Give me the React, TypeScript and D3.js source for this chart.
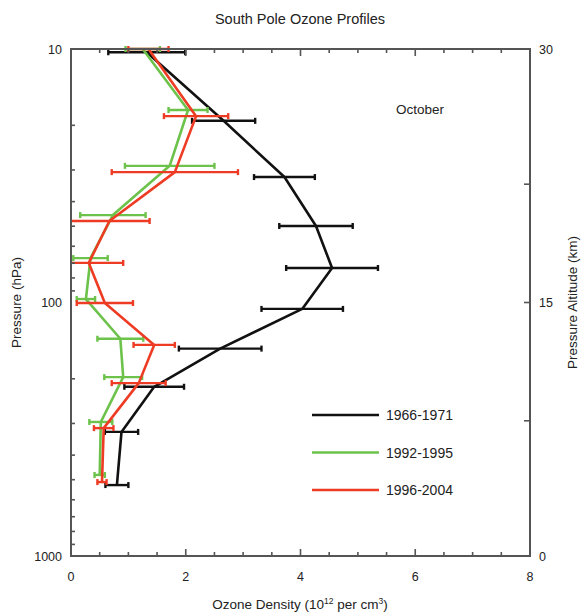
import React from "react";
import * as d3 from "d3";

// ---- data ----
const seriesNames = ["1966-1971", "1992-1995", "1996-2004"];
const seriesColors = ["#111111", "#6cc24a", "#ee3b24"];

// pressure (hPa), ozone density mean and half error (10^12 per cm^3)
const blackPressure = [10.3, 19.2, 32.0, 49.9, 73.1, 106, 152, 215, 324, 525];
const blackValue = [1.32, 2.66, 3.72, 4.27, 4.55, 4.03, 2.6, 1.45, 0.88, 0.8];
const blackError = [0.67, 0.55, 0.53, 0.64, 0.8, 0.71, 0.72, 0.52, 0.29, 0.2];

const greenPressure = [10, 17.4, 28.9, 45.2, 66.8, 96.9, 139, 197, 296, 479];
const greenValue = [1.25, 2.04, 1.72, 0.73, 0.34, 0.26, 0.86, 0.91, 0.52, 0.5];
const greenError = [0.3, 0.34, 0.78, 0.57, 0.3, 0.16, 0.4, 0.33, 0.2, 0.09];

const redPressure = [10, 18.4, 30.6, 47.7, 69.8, 100.5, 147, 208, 313, 511];
const redValue = [1.35, 2.18, 1.81, 0.67, 0.31, 0.59, 1.45, 1.18, 0.57, 0.54];
const redError = [0.35, 0.56, 1.1, 0.7, 0.6, 0.49, 0.36, 0.47, 0.17, 0.08];

const xMajorTicks = [0, 2, 4, 6, 8];
const xMinorTicks = d3.range(0, 8.01, 0.5);
const yLabelTicks = [10, 100, 1000];
const yMinorTicks = [20, 30, 40, 50, 60, 70, 80, 90, 200, 300, 400, 500, 600, 700, 800, 900];
const altLabelTicks = [30, 15, 0];
const altMinorTicks = [22, 8];

const W = 587;
const H = 616;
const L = 71, R = 530, T = 49, B = 556;

export default function App() {
  const x = d3.scaleLinear().domain([0, 8]).range([L, R]);
  const y = d3.scaleLog().domain([10, 1000]).range([T, B]);
  const alt = d3.scaleLinear().domain([0, 30]).range([B, T]);

  const series = [
    { p: blackPressure, v: blackValue, e: blackError },
    { p: greenPressure, v: greenValue, e: greenError },
    { p: redPressure, v: redValue, e: redError },
  ];

  const line = d3
    .line<[number, number]>()
    .x((d) => x(d[0]))
    .y((d) => y(d[1]));

  const axisColor = "#555";
  const font = "'Liberation Sans', Arial, Helvetica, sans-serif";
  const drawOrder = [0, 1, 2];

  return (
    <svg width={W} height={H} style={{ position: "absolute", left: 0, top: 0 }} fontFamily={font}>
      <rect width={W} height={H} fill="#fff" />
      <defs>
        <clipPath id="plot">
          <rect x={L} y={T - 4} width={R - L} height={B - T + 4} />
        </clipPath>
      </defs>
      <text x={300} y={24} textAnchor="middle" fontSize={14.5} fill="#222">
        South Pole Ozone Profiles
      </text>

      {/* data */}
      <g clipPath="url(#plot)">
        {drawOrder.map((si) => {
          const s = series[si];
          const pts: [number, number][] = s.v.map((v, i) => [v, s.p[i]]);
          return (
            <g key={si}>
              {s.v.map((v, i) => {
                const yy = y(s.p[i]);
                const x0 = x(v - s.e[i]);
                const x1 = x(v + s.e[i]);
                return (
                  <g key={i} stroke={seriesColors[si]} strokeWidth={2.4}>
                    <line x1={x0} x2={x1} y1={yy} y2={yy} />
                    <line x1={x0} x2={x0} y1={yy - 3} y2={yy + 3} />
                    <line x1={x1} x2={x1} y1={yy - 3} y2={yy + 3} />
                  </g>
                );
              })}
              <path d={line(pts) || ""} fill="none" stroke={seriesColors[si]} strokeWidth={2.6} strokeLinejoin="round" />
            </g>
          );
        })}
      </g>

      {/* frame */}
      <rect x={L} y={T} width={R - L} height={B - T} fill="none" stroke={axisColor} strokeWidth={2} />

      {/* x ticks bottom & top */}
      {xMinorTicks.map((t) => {
        const major = xMajorTicks.includes(t);
        const len = major ? 7 : 4;
        return (
          <g key={"xt" + t} stroke={axisColor} strokeWidth={1.6}>
            <line x1={x(t)} x2={x(t)} y1={B} y2={B - len} />
            <line x1={x(t)} x2={x(t)} y1={T} y2={T + len} />
          </g>
        );
      })}
      {xMajorTicks.map((t) => (
        <text key={"xl" + t} x={x(t)} y={581} textAnchor="middle" fontSize={12.5} fill="#222">
          {t}
        </text>
      ))}
      <text x={300} y={609} textAnchor="middle" fontSize={13.5} fill="#222">
        Ozone Density (10
        <tspan dy={-5} fontSize={8.5}>12</tspan>
        <tspan dy={5}> per cm</tspan>
        <tspan dy={-5} fontSize={8.5}>3</tspan>
        <tspan dy={5}>)</tspan>
      </text>

      {/* y ticks left */}
      {yMinorTicks.map((t) => (
        <line key={"ym" + t} x1={L} x2={L + 4} y1={y(t)} y2={y(t)} stroke={axisColor} strokeWidth={1.6} />
      ))}
      {yLabelTicks.map((t) => (
        <text key={"yl" + t} x={62} y={y(t) + 4.5} textAnchor="end" fontSize={12.5} fill="#222">
          {t}
        </text>
      ))}
      <text
        transform={`translate(21,${(T + B) / 2}) rotate(-90)`}
        textAnchor="middle"
        fontSize={13.5}
        fill="#222"
      >
        Pressure (hPa)
      </text>

      {/* right altitude axis */}
      {[...altLabelTicks, ...altMinorTicks].map((t) => (
        <line key={"ar" + t} x1={R} x2={R - 6} y1={alt(t)} y2={alt(t)} stroke={axisColor} strokeWidth={1.6} />
      ))}
      {altLabelTicks.map((t) => (
        <text key={"al" + t} x={539} y={alt(t) + 4.5} textAnchor="start" fontSize={12.5} fill="#222">
          {t}
        </text>
      ))}
      <text
        transform={`translate(577,${(T + B) / 2}) rotate(-90)`}
        textAnchor="middle"
        fontSize={13.5}
        fill="#222"
      >
        Pressure Altitude (km)
      </text>

      <text x={420} y={114} textAnchor="middle" fontSize={13.5} fill="#222">
        October
      </text>

      {/* legend */}
      {seriesNames.map((n, i) => {
        const ly = 415 + i * 37.5;
        return (
          <g key={n}>
            <line x1={312} x2={379} y1={ly} y2={ly} stroke={seriesColors[i]} strokeWidth={2.6} />
            <text x={386} y={ly + 5} fontSize={14} fill="#222">
              {n}
            </text>
          </g>
        );
      })}
    </svg>
  );
}
